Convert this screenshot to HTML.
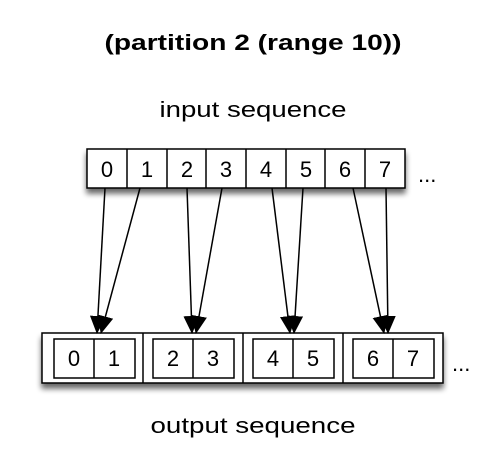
<!DOCTYPE html>
<html><head><style>body{margin:0;background:#fff}svg{display:block}</style></head><body>
<svg width="496" height="458" viewBox="0 0 496 458" xmlns="http://www.w3.org/2000/svg" font-family="Liberation Sans, sans-serif">
<defs>
<filter id="sh" x="-10%" y="-20%" width="120%" height="160%"><feGaussianBlur in="SourceAlpha" stdDeviation="3"/><feOffset dx="0" dy="5"/><feComponentTransfer><feFuncA type="linear" slope="0.6"/></feComponentTransfer><feMerge><feMergeNode/><feMergeNode in="SourceGraphic"/></feMerge></filter>
<marker id="ah" markerWidth="18" markerHeight="16" refX="17" refY="8" orient="auto" markerUnits="userSpaceOnUse"><path d="M0,0 L18,8 L0,16 z" fill="#000"/></marker>
</defs>
<text x="253" y="50" font-size="22" font-weight="bold" text-anchor="middle" textLength="297" lengthAdjust="spacingAndGlyphs">(partition 2 (range 10))</text>
<text x="253" y="117" font-size="22" text-anchor="middle" textLength="187" lengthAdjust="spacingAndGlyphs">input sequence</text>
<text x="253" y="433" font-size="22" text-anchor="middle" textLength="205" lengthAdjust="spacingAndGlyphs">output sequence</text>
<g filter="url(#sh)"><rect x="87" y="149" width="318" height="39" fill="#fff" stroke="#000" stroke-width="1.5"/></g>
<g stroke="#000" stroke-width="1.5"><line x1="127" y1="149" x2="127" y2="188"/><line x1="167" y1="149" x2="167" y2="188"/><line x1="206" y1="149" x2="206" y2="188"/><line x1="246" y1="149" x2="246" y2="188"/><line x1="286" y1="149" x2="286" y2="188"/><line x1="325" y1="149" x2="325" y2="188"/><line x1="365" y1="149" x2="365" y2="188"/></g>
<g font-size="22" text-anchor="middle"><text x="107" y="177">0</text><text x="147" y="177">1</text><text x="187" y="177">2</text><text x="226" y="177">3</text><text x="266" y="177">4</text><text x="306" y="177">5</text><text x="345" y="177">6</text><text x="385" y="177">7</text></g>
<text x="418" y="182" font-size="22">...</text>
<g filter="url(#sh)"><rect x="42" y="333" width="401" height="50" fill="#fff" stroke="#000" stroke-width="1.5"/></g>
<g stroke="#000" stroke-width="1.5" fill="none"><line x1="143" y1="333" x2="143" y2="383"/><line x1="243" y1="333" x2="243" y2="383"/><line x1="343" y1="333" x2="343" y2="383"/>
<rect x="54" y="339" width="81" height="39"/><line x1="94" y1="339" x2="94" y2="378"/>
<rect x="153" y="339" width="81" height="39"/><line x1="193" y1="339" x2="193" y2="378"/>
<rect x="253" y="339" width="81" height="39"/><line x1="293" y1="339" x2="293" y2="378"/>
<rect x="353" y="339" width="81" height="39"/><line x1="393" y1="339" x2="393" y2="378"/></g>
<g font-size="22" text-anchor="middle"><text x="74" y="366">0</text><text x="114" y="366">1</text><text x="173" y="366">2</text><text x="213" y="366">3</text><text x="273" y="366">4</text><text x="313" y="366">5</text><text x="373" y="366">6</text><text x="413" y="366">7</text></g>
<text x="452" y="371" font-size="22">...</text>
<g stroke="#000" stroke-width="1.5" marker-end="url(#ah)">
<line x1="105" y1="188" x2="97" y2="333"/><line x1="140" y1="188" x2="101" y2="333"/>
<line x1="187" y1="188" x2="192" y2="333"/><line x1="222" y1="188" x2="196" y2="333"/>
<line x1="272" y1="188" x2="290" y2="333"/><line x1="303" y1="188" x2="294" y2="333"/>
<line x1="353" y1="188" x2="384" y2="333"/><line x1="386" y1="188" x2="388" y2="333"/>
</g>
</svg>
</body></html>
